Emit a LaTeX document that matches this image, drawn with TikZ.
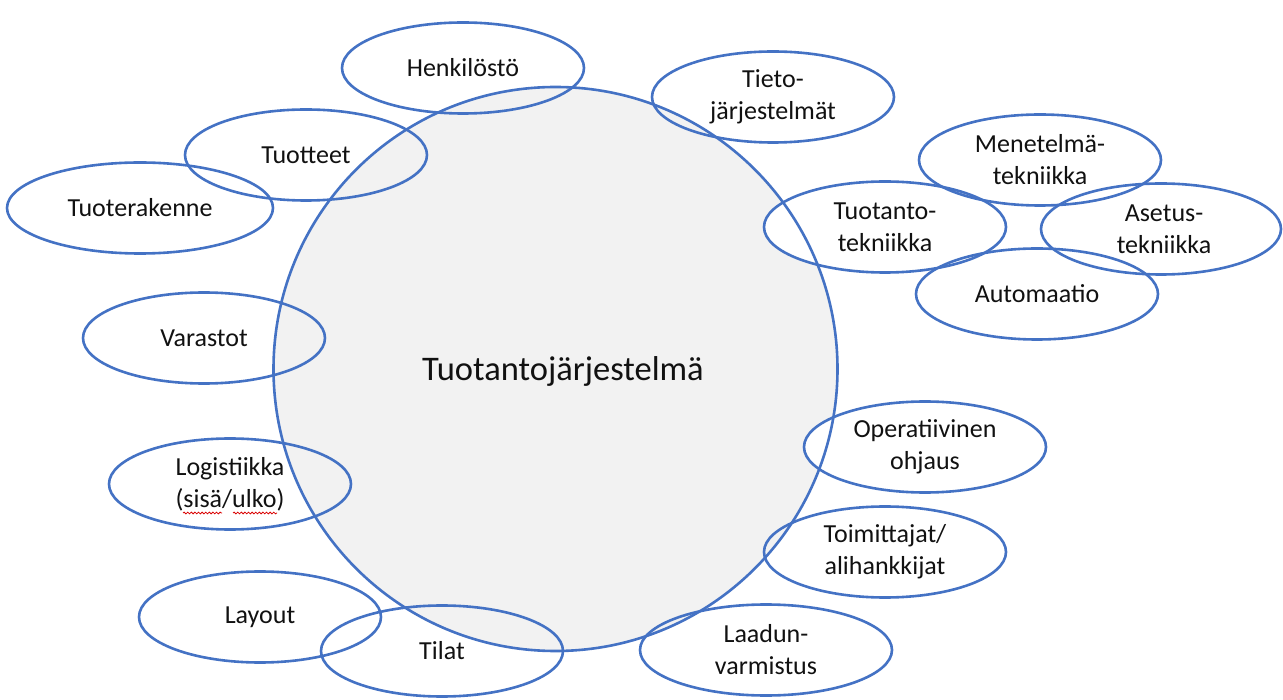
\documentclass[tikz,border=0pt]{standalone}
\usepackage{fontspec}
\setmainfont{Carlito}
\usetikzlibrary{shapes.geometric,decorations.pathmorphing}
\definecolor{lineblue}{HTML}{4472C4}
\definecolor{circfill}{HTML}{F2F2F2}
\definecolor{txt}{HTML}{111111}
\begin{document}
\begin{tikzpicture}[x=1pt,y=-1pt,
  bubble/.style={ellipse, draw=lineblue, line width=2.6pt, inner sep=0pt,
    minimum width=242pt, minimum height=91pt, align=center, text=txt,
    font=\fontsize{26}{32}\selectfont},
  title/.style={text=txt, font=\fontsize{34.5}{40}\selectfont, inner sep=0pt},
  spell/.style={draw=red!85!black, line width=0.8pt, decorate,
    decoration={snake, amplitude=0.9pt, segment length=3.6pt}}]
\useasboundingbox (0,0) rectangle (1283,700);
% main circle fill
\fill[circfill] (555.5,369) circle[radius=282];
% white-filled bubbles (background)
\fill[white] (885,227) ellipse[x radius=121, y radius=45.5];
\fill[white] (925,447) ellipse[x radius=121, y radius=45.5];
% main circle outline
\node[circle, draw=lineblue, line width=2.6pt, minimum size=564pt, inner sep=0pt] (sys) at (555.5,369) {};
\node[title] (systxt) at (563,371) {Tuotantojärjestelmä};
% bubbles
\node[bubble] (henk) at (463,68) {Henkilöstö};
\node[bubble] (tieto) at (773,97) {Tieto-\\järjestelmät};
\node[bubble] (tuott) at (306,155) {Tuotteet};
\node[bubble, minimum width=266pt] (tuoter) at (140,208) {Tuoterakenne};
\node[bubble] (menet) at (1040,160) {Menetelmä-\\tekniikka};
\node[bubble] (tuotant) at (885,227) {Tuotanto-\\tekniikka};
\node[bubble, minimum width=240pt] (asetus) at (1161,229) {\hspace*{6pt}Asetus-\\\hspace*{6pt}tekniikka};
\node[bubble] (autom) at (1037,294) {Automaatio};
\node[bubble] (varast) at (204,338) {Varastot};
\node[bubble] (oper) at (925,447) {Operatiivinen\\ohjaus};
\node[bubble] (logist) at (230,484) {Logistiikka\\(sisä/ulko)};
\node[bubble] (toimit) at (885,552) {Toimittajat/\\alihankkijat};
\node[bubble] (layout) at (260,617) {Layout};
\node[bubble] (tilat) at (442,651) {Tilat};
\node[bubble, minimum width=252pt] (laadun) at (766,650) {Laadun-\\varmistus};
% spell-check underlines
\draw[spell] (183,513) -- (222,513);
\draw[spell] (233,513) -- (277,513);
\end{tikzpicture}
\end{document}
